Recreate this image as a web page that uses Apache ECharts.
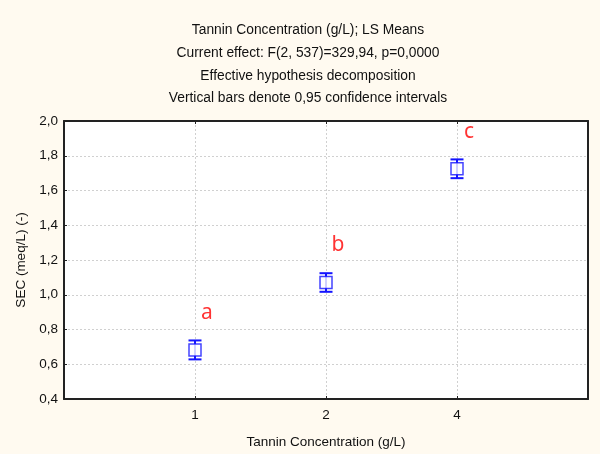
<!DOCTYPE html>
<html>
<head>
<meta charset="utf-8">
<script src="https://cdn.jsdelivr.net/npm/echarts@6/dist/echarts.min.js"></script>
<style>
  html, body { margin: 0; padding: 0; background: #fffaf0; }
  #chart { width: 600px; height: 454px; }
</style>
</head>
<body>
<div id="chart"></div>
<script>
// Tannin concentration levels (g/L) shown on the x axis
const concentrations = ['1', '2', '4'];
// LS means of SEC (meq/L) per level
const secMeans = [0.682, 1.071, 1.725];
// Lower and upper 0.95 confidence limits
const ciLower = [0.628, 1.017, 1.671];
const ciUpper = [0.737, 1.124, 1.779];
// Post-hoc grouping letters
const groupLetters = ['a', 'b', 'c'];

const titleLines = [
  'Tannin Concentration (g/L); LS Means',
  'Current effect: F(2, 537)=329,94, p=0,0000',
  'Effective hypothesis decomposition',
  'Vertical bars denote 0,95 confidence intervals'
];

const font = 'Liberation Sans, Arial, sans-serif';
const blue = '#1414ff';
const gridDash = { color: '#d0d0d0', type: [2, 2], width: 1 };

const pointData = secMeans.map((m, i) => [i + 1, m]);
const barData = secMeans.map((m, i) => [i + 1, ciLower[i], ciUpper[i]]);

const chart = echarts.init(document.getElementById('chart'), null, { renderer: 'canvas' });

chart.setOption({
  backgroundColor: '#fffaf0',
  animation: false,
  title: {
    text: titleLines.join('\n'),
    left: 303,
    top: 14,
    textAlign: 'center',
    textStyle: {
      fontFamily: font,
      fontSize: 13.8,
      fontWeight: 'normal',
      color: '#111',
      lineHeight: 22.7
    }
  },
  grid: {
    left: 64,
    right: 12,
    top: 121,
    bottom: 52,
    show: true,
    backgroundColor: '#ffffff',
    borderWidth: 0
  },
  xAxis: [
    {
      type: 'value',
      min: 0,
      max: 4,
      interval: 1,
      name: 'Tannin Concentration (g/L)',
      nameLocation: 'middle',
      nameGap: 36,
      nameTextStyle: { fontFamily: font, fontSize: 13.5, color: '#111' },
      axisLine: { show: true, onZero: false, lineStyle: { color: '#222', width: 2 } },
      axisTick: { show: true, inside: true, length: 3, lineStyle: { color: '#222' } },
      axisLabel: {
        fontFamily: font,
        fontSize: 13.5,
        color: '#111',
        margin: 9,
        formatter: v => (v >= 1 && v <= concentrations.length) ? concentrations[v - 1] : ''
      },
      splitLine: { show: true, showMinLine: false, showMaxLine: false, lineStyle: gridDash }
    },
    {
      // frame edge along the top
      type: 'value',
      position: 'top',
      min: 0,
      max: 4,
      interval: 1,
      axisLine: { show: true, onZero: false, lineStyle: { color: '#222', width: 2 } },
      axisTick: { show: true, inside: true, length: 3, lineStyle: { color: '#222' } },
      axisLabel: { show: false },
      splitLine: { show: false }
    }
  ],
  yAxis: [
    {
      type: 'value',
      min: 0.4,
      max: 2.0,
      interval: 0.2,
      name: 'SEC (meq/L) (-)',
      nameLocation: 'middle',
      nameGap: 35,
      nameTextStyle: { fontFamily: font, fontSize: 13.5, color: '#111' },
      axisLine: { show: true, onZero: false, lineStyle: { color: '#222', width: 2 } },
      axisTick: { show: true, inside: true, length: 3, lineStyle: { color: '#222' } },
      axisLabel: {
        fontFamily: font,
        fontSize: 13.5,
        color: '#111',
        margin: 6,
        formatter: v => v.toFixed(1).replace('.', ',')
      },
      splitLine: { show: true, showMinLine: false, showMaxLine: false, lineStyle: gridDash }
    },
    {
      // frame edge along the right
      type: 'value',
      position: 'right',
      min: 0.4,
      max: 2.0,
      interval: 0.2,
      axisLine: { show: true, onZero: false, lineStyle: { color: '#222', width: 2 } },
      axisTick: { show: false },
      axisLabel: { show: false },
      splitLine: { show: false }
    }
  ],
  series: [
    {
      // confidence interval whiskers with caps
      type: 'custom',
      data: barData,
      z: 3,
      renderItem: function (params, api) {
        const x = api.value(0);
        const lo = api.coord([x, api.value(1)]);
        const hi = api.coord([x, api.value(2)]);
        const half = 6.5;
        const style = { stroke: blue, lineWidth: 2 };
        return {
          type: 'group',
          children: [
            { type: 'line', shape: { x1: lo[0], y1: lo[1], x2: hi[0], y2: hi[1] }, style: style },
            { type: 'line', shape: { x1: lo[0] - half, y1: lo[1], x2: lo[0] + half, y2: lo[1] }, style: style },
            { type: 'line', shape: { x1: hi[0] - half, y1: hi[1], x2: hi[0] + half, y2: hi[1] }, style: style }
          ]
        };
      }
    },
    {
      // mean markers with group letters
      type: 'scatter',
      data: pointData,
      z: 4,
      symbol: 'rect',
      symbolSize: 12,
      itemStyle: { color: '#ffffff', borderColor: blue, borderWidth: 1.5 },
      label: {
        show: true,
        position: 'inside',
        offset: [12, -37],
        formatter: p => groupLetters[p.dataIndex],
        fontFamily: 'Noto Sans, sans-serif',
        fontSize: 21,
        color: '#ff0000'
      }
    }
  ]
});
</script>
</body>
</html>
